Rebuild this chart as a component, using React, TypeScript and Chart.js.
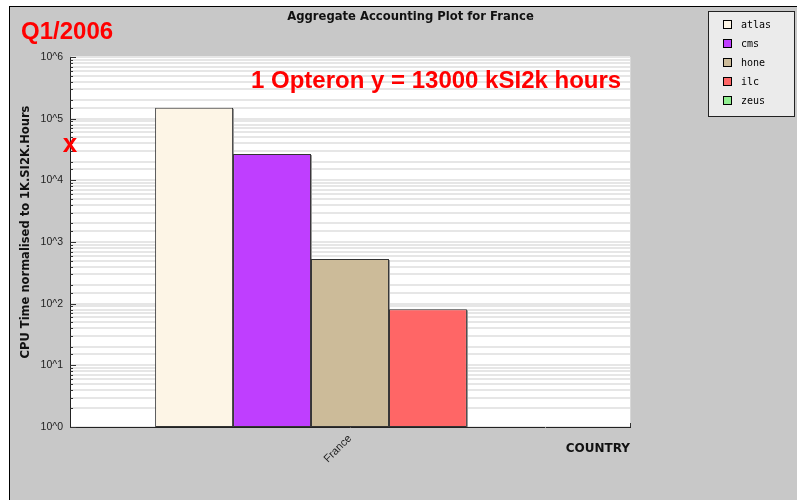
import React, { useEffect, useRef } from 'react';
import { Chart, registerables } from 'chart.js';

Chart.register(...registerables);

// ---- data ----
const categories = ['France'];
const seriesNames = ['atlas', 'cms', 'hone', 'ilc', 'zeus'];
const atlasValues = [150000];
const cmsValues = [26700];
const honeValues = [530];
const ilcValues = [81];
const zeusValues: (number | null)[] = [null];
const seriesColors = ['#fdf5e6', '#bf3eff', '#ccbb99', '#ff6666', '#90ee90'];
const yTickLabels = ['10^0', '10^1', '10^2', '10^3', '10^4', '10^5', '10^6'];
const markerValue = 37000;
const chartTitle = 'Aggregate Accounting Plot for France';
const yTitle = 'CPU Time normalised to 1K.SI2K.Hours';
const xTitle = 'COUNTRY';
const periodLabel = 'Q1/2006';
const noteLabel = '1 Opteron y = 13000 kSI2k hours';
const markerLabel = 'x';

const seriesValues = [atlasValues, cmsValues, honeValues, ilcValues, zeusValues];

const decorPlugin = {
  id: 'decor',
  beforeDraw(chart: any) {
    const { ctx, width, height, chartArea: a } = chart;
    ctx.save();
    ctx.fillStyle = '#ffffff';
    ctx.fillRect(0, 0, width, height);
    ctx.fillStyle = '#c8c8c8';
    ctx.fillRect(10, 7, width - 10, height - 7);
    ctx.strokeStyle = '#000000';
    ctx.lineWidth = 1;
    ctx.beginPath();
    ctx.moveTo(9.5, 6);
    ctx.lineTo(9.5, height);
    ctx.moveTo(9, 6.5);
    ctx.lineTo(width, 6.5);
    ctx.stroke();
    ctx.fillStyle = '#ffffff';
    ctx.fillRect(a.left, a.top, a.right - a.left, a.bottom - a.top);
    ctx.restore();
  },
  beforeDatasetsDraw(chart: any) {
    const { ctx } = chart;
    ctx.save();
    ctx.strokeStyle = '#9a9a9a';
    ctx.lineWidth = 1;
    chart.data.datasets.forEach((_: any, i: number) => {
      const meta = chart.getDatasetMeta(i);
      meta.data.forEach((bar: any) => {
        if (bar.skip || bar.y == null || isNaN(bar.y)) return;
        const r = Math.round(bar.x + bar.width / 2) + 0.5;
        ctx.beginPath();
        ctx.moveTo(r, bar.y + 1);
        ctx.lineTo(r, bar.base);
        ctx.stroke();
      });
    });
    ctx.restore();
  },
  afterDatasetsDraw(chart: any) {
    const { ctx, chartArea: a } = chart;
    const y = chart.scales.y;
    ctx.save();
    ctx.strokeStyle = '#d8d8d8';
    ctx.lineWidth = 1;
    ctx.beginPath();
    ctx.moveTo(a.right + 0.5, a.top);
    ctx.lineTo(a.right + 0.5, a.bottom);
    ctx.stroke();
    ctx.strokeStyle = '#333333';
    ctx.beginPath();
    y.ticks.forEach((t: any) => {
      const e = Math.log10(t.value);
      const major = Math.abs(e - Math.round(e)) < 1e-9;
      const py = Math.round(y.getPixelForValue(t.value)) + 0.5;
      ctx.moveTo(a.left, py);
      ctx.lineTo(a.left + (major ? 6 : 3), py);
    });
    ctx.moveTo(a.right + 0.5, a.bottom);
    ctx.lineTo(a.right + 0.5, a.bottom - 4);
    ctx.stroke();
    ctx.restore();
  },
  afterDraw(chart: any) {
    const { ctx, chartArea: a } = chart;
    const y = chart.scales.y;
    ctx.save();
    ctx.fillStyle = '#111111';
    ctx.font = 'bold 11.6px "DejaVu Sans"';
    ctx.textAlign = 'center';
    ctx.textBaseline = 'alphabetic';
    ctx.fillText(chartTitle, 410.5, 20);
    ctx.save();
    ctx.translate(29, 232);
    ctx.rotate(-Math.PI / 2);
    ctx.font = 'bold 11.5px "DejaVu Sans"';
    ctx.fillText(yTitle, 0, 0);
    ctx.restore();
    ctx.fillStyle = '#ff0000';
    ctx.font = 'bold 24px "Liberation Sans"';
    ctx.textAlign = 'left';
    ctx.fillText(periodLabel, 21, 39);
    ctx.fillText(noteLabel, 251, 88);
    ctx.font = 'bold 26px "Liberation Sans"';
    ctx.textAlign = 'center';
    ctx.fillText(markerLabel, a.left, y.getPixelForValue(markerValue) + 7);
    ctx.fillStyle = '#ebebeb';
    ctx.fillRect(708.5, 11.5, 86, 105);
    ctx.strokeStyle = '#222222';
    ctx.lineWidth = 1;
    ctx.strokeRect(708.5, 11.5, 86, 105);
    ctx.font = '10px "DejaVu Sans Mono"';
    ctx.textAlign = 'left';
    ctx.textBaseline = 'middle';
    chart.data.datasets.forEach((ds: any, i: number) => {
      const ry = 25 + i * 19;
      ctx.fillStyle = ds.backgroundColor;
      ctx.fillRect(723.5, ry - 4.5, 8, 8);
      ctx.strokeStyle = '#000000';
      ctx.strokeRect(723.5, ry - 4.5, 8, 8);
      ctx.fillStyle = '#000000';
      ctx.fillText(ds.label, 741, ry);
    });
    ctx.restore();
  },
};

export default function App() {
  const canvasRef = useRef<HTMLCanvasElement | null>(null);

  useEffect(() => {
    const canvas = canvasRef.current;
    if (!canvas) return;
    const chart = new Chart(canvas, {
      type: 'bar',
      data: {
        labels: categories,
        datasets: seriesNames.map((name, i) => ({
          label: name,
          data: seriesValues[i] as any,
          backgroundColor: seriesColors[i],
          borderColor: '#333333',
          borderWidth: 1,
          borderSkipped: false,
          categoryPercentage: 0.696,
          barPercentage: 1,
        })),
      },
      options: {
        responsive: false,
        animation: false,
        devicePixelRatio: 1,
        layout: { padding: { left: 0, top: 57, right: 167, bottom: 0 } },
        plugins: {
          legend: { display: false },
          title: { display: false },
          tooltip: { enabled: false },
        },
        scales: {
          x: {
            type: 'category',
            grid: { display: false },
            border: { display: true, color: '#222222', width: 1 },
            ticks: {
              minRotation: 45,
              maxRotation: 45,
              padding: -3,
              color: '#222222',
              font: { family: '"Liberation Sans"', size: 11 },
            },
            title: {
              display: true,
              text: xTitle,
              align: 'end',
              color: '#111111',
              font: { family: '"DejaVu Sans"', size: 12, weight: 'bold' },
              padding: { top: 0, bottom: 44 },
            },
            afterFit(scale: any) {
              scale.height = 73;
            },
          },
          y: {
            type: 'logarithmic',
            min: 1,
            max: 1000000,
            grid: { color: '#e6e6e6', lineWidth: 2, drawTicks: false },
            border: { display: true, color: '#222222', width: 1 },
            ticks: {
              autoSkip: false,
              padding: 7,
              color: '#222222',
              font: { family: '"Liberation Sans"', size: 10.5 },
              callback: (value: any) => {
                const e = Math.log10(Number(value));
                const r = Math.round(e);
                return Math.abs(e - r) < 1e-9 ? yTickLabels[r] : '';
              },
            },
            afterFit(scale: any) {
              scale.width = 70;
            },
          },
        },
      },
      plugins: [decorPlugin],
    });
    return () => chart.destroy();
  }, []);

  return (
    <div style={{ position: 'fixed', left: 0, top: 0, width: 797, height: 500 }}>
      <canvas ref={canvasRef} width={797} height={500} style={{ width: 797, height: 500 }} />
    </div>
  );
}
